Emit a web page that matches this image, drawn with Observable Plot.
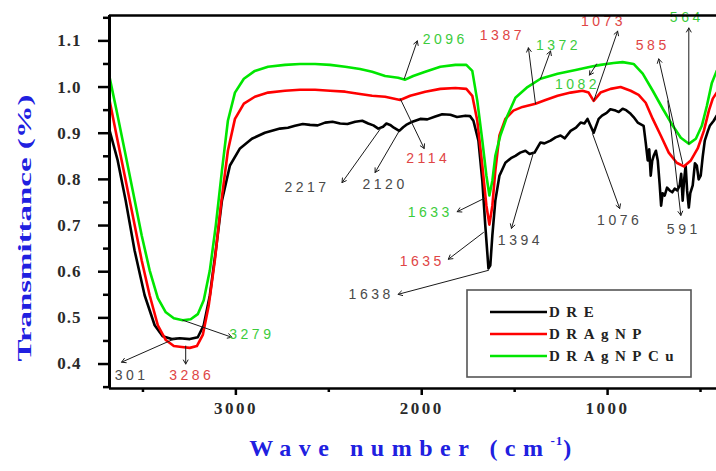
<!DOCTYPE html>
<html><head><meta charset="utf-8">
<script src="https://cdn.jsdelivr.net/npm/d3@7"></script>
<script src="https://cdn.jsdelivr.net/npm/@observablehq/plot@0.6"></script>
<style>
html,body{margin:0;padding:0;background:#fff;}
#chart{width:716px;height:471px;overflow:hidden;}
#chart g[aria-label$="tick label"] text{font-family:"Liberation Serif","Times New Roman",serif;font-weight:bold;font-size:17px;fill:#2a2a2a;}
#chart g[aria-label="y-axis tick label"] text{letter-spacing:1px;}
#chart g[aria-label="x-axis tick label"] text{letter-spacing:2.5px;}
#chart g[aria-label="text"] text{letter-spacing:3.5px;}
</style></head><body><div id="chart"></div><script>
const seriesNames = ["DRE", "DRAgNP", "DRAgNPCu"];
const seriesColors = ["#000000", "#ff0000", "#00e600"];
const labelColors = ["#4a4a4a", "#e04545", "#3ccc3c"];

const dreWave = [3679,3636,3593,3545,3491,3437,3394,3345,3302,3248,3205,3173,3140,3108,3075,3032,2978,2914,2844,2763,2720,2682,2640,2601,2560,2520,2480,2439,2400,2358,2320,2288,2260,2234,2208,2190,2170,2150,2121,2100,2084,2050,2008,1970,1927,1890,1846,1810,1765,1740,1722,1695,1674,1658,1641,1631,1620,1604,1582,1550,1520,1496,1470,1442,1420,1393,1361,1340,1307,1280,1253,1230,1199,1170,1145,1125,1108,1075,1048,1030,1005,985,957,940,919,900,876,860,838,806,795,784,776,768,760,752,740,730,720,712,704,693,680,666,652,639,625,612,604,596,588,580,572,563,555,542,530,520,510,499,488,477,460,450,429,413];
const dreT = [0.905,0.841,0.754,0.646,0.549,0.484,0.460,0.454,0.456,0.454,0.458,0.484,0.549,0.646,0.754,0.830,0.867,0.888,0.901,0.910,0.912,0.916,0.920,0.918,0.917,0.923,0.925,0.921,0.920,0.925,0.927,0.921,0.917,0.910,0.914,0.921,0.918,0.912,0.905,0.913,0.918,0.925,0.931,0.930,0.936,0.941,0.940,0.935,0.938,0.937,0.927,0.884,0.797,0.700,0.607,0.614,0.679,0.754,0.808,0.836,0.846,0.851,0.858,0.862,0.855,0.858,0.880,0.878,0.884,0.891,0.895,0.889,0.905,0.912,0.923,0.921,0.931,0.901,0.931,0.938,0.944,0.952,0.949,0.946,0.953,0.950,0.942,0.935,0.923,0.916,0.880,0.841,0.865,0.808,0.840,0.851,0.862,0.841,0.790,0.743,0.770,0.765,0.782,0.776,0.772,0.780,0.776,0.787,0.812,0.754,0.800,0.830,0.775,0.739,0.770,0.787,0.835,0.830,0.800,0.808,0.850,0.884,0.905,0.916,0.927,0.938];

const agnpWave = [3679,3642,3598,3555,3507,3464,3420,3377,3334,3291,3248,3210,3178,3146,3113,3081,3043,3005,2957,2898,2827,2736,2655,2574,2493,2412,2332,2267,2197,2116,2062,1981,1900,1819,1760,1728,1701,1674,1652,1636,1620,1604,1582,1550,1507,1458,1388,1334,1269,1199,1135,1102,1075,1038,984,930,876,833,795,757,714,671,628,590,552,515,482,455,434,413];
const agnpT = [0.970,0.895,0.808,0.722,0.625,0.549,0.484,0.452,0.439,0.437,0.435,0.439,0.463,0.527,0.625,0.743,0.862,0.931,0.964,0.979,0.988,0.992,0.994,0.994,0.992,0.990,0.985,0.981,0.979,0.972,0.981,0.990,0.996,0.998,0.996,0.981,0.927,0.830,0.743,0.702,0.743,0.819,0.895,0.931,0.949,0.957,0.964,0.972,0.981,0.988,0.992,0.988,0.970,0.988,0.996,1.000,0.992,0.983,0.966,0.931,0.895,0.858,0.836,0.828,0.841,0.867,0.905,0.949,0.975,0.988];

const cuWave = [3679,3642,3598,3555,3507,3464,3420,3377,3334,3286,3243,3205,3173,3140,3108,3075,3043,3005,2957,2898,2827,2736,2655,2574,2493,2412,2332,2267,2197,2127,2089,2046,1981,1900,1819,1760,1728,1701,1674,1652,1636,1620,1604,1577,1539,1496,1431,1361,1269,1172,1092,1038,968,919,860,811,757,703,649,606,563,525,493,466,439,413];
const cuT = [1.020,0.949,0.862,0.776,0.679,0.603,0.543,0.512,0.499,0.495,0.497,0.508,0.538,0.603,0.700,0.819,0.927,0.988,1.018,1.035,1.044,1.048,1.050,1.050,1.048,1.044,1.039,1.033,1.024,1.020,1.016,1.024,1.033,1.044,1.048,1.048,1.035,0.970,0.884,0.808,0.765,0.797,0.851,0.895,0.938,0.977,1.000,1.018,1.029,1.037,1.044,1.048,1.052,1.054,1.050,1.029,0.992,0.953,0.916,0.890,0.877,0.888,0.916,0.959,1.009,1.035];

const xDomain = [3680, 414];
const yDomain = [0.347, 1.155];
const xTicks = [3000, 2000, 1000];
const xMinorTicks = [3500, 2500, 1500, 500];
const yTicks = [0.4, 0.5, 0.6, 0.7, 0.8, 0.9, 1.0, 1.1];
const yMinorTicks = [0.35, 0.45, 0.55, 0.65, 0.75, 0.85, 0.95, 1.05, 1.15];

// [label, series, textW, textT, fromW, fromT, toW, toT]
const peakLabels = [
  ["2096","DRAgNPCu", 1873,1.104, 2094,1.018, 2024,1.100],
  ["1387","DRAgNP", 1566,1.111, 1388,0.964, 1426,1.085],
  ["1372","DRAgNPCu", 1264,1.089, 1361,1.018, 1307,1.078],
  ["1073","DRAgNP", 1022,1.143, 1075,0.970, 946,1.121],
  ["1082","DRAgNPCu", 1162,1.005, 1059,1.050, 1097,1.026],
  ["585","DRAgNP", 757,1.089, 596,0.834, 725,1.061],
  ["564","DRAgNPCu", 574,1.150, 563,0.877, 563,1.128],
  ["2114","DRAgNP", 1965,0.845, 2116,0.975, 1987,0.867],
  ["2217","DRE", 2617,0.782, 2218,0.912, 2429,0.793],
  ["2120","DRE", 2197,0.789, 2121,0.905, 2251,0.815],
  ["1633","DRAgNPCu", 1954,0.728, 1663,0.759, 1809,0.730],
  ["1635","DRAgNP", 1997,0.622, 1668,0.685, 1857,0.627],
  ["1638","DRE", 2272,0.551, 1641,0.603, 2127,0.551],
  ["1394","DRE", 1469,0.668, 1399,0.858, 1517,0.694],
  ["1076","DRE", 935,0.711, 1081,0.899, 935,0.737],
  ["591","DRE", 590,0.692, 676,0.970, 606,0.722],
  ["3279","DRAgNPCu", 2914,0.463, 3286,0.495, 3022,0.458],
  ["3286","DRAgNP", 3237,0.376, 3270,0.439, 3270,0.400],
  ["301","DRE", 3561,0.376, 3323,0.456, 3615,0.404]
];

const rows = [];
[[dreWave, dreT], [agnpWave, agnpT], [cuWave, cuT]].forEach(([ws, ts], k) => {
  ws.forEach((w, i) => rows.push({series: seriesNames[k], w, t: ts[i]}));
});

const textMarks = seriesNames.map((name, k) =>
  Plot.text(peakLabels.filter(d => d[1] === name), {
    x: d => d[2], y: d => d[3], text: d => d[0],
    fill: labelColors[k], fontSize: 14, fontFamily: "Liberation Sans, Arial, sans-serif"
  })
);

const chart = Plot.plot({
  width: 716, height: 471,
  marginTop: 15, marginBottom: 83, marginLeft: 109, marginRight: 0,
  x: {domain: xDomain},
  y: {domain: yDomain},
  color: {domain: seriesNames, range: seriesColors},
  style: {fontFamily: "Liberation Serif, serif", fontSize: "17px", background: "white", overflow: "visible"},
  marks: [
    Plot.line(rows, {x: "w", y: "t", z: "series", stroke: "series", strokeWidth: 2.6, clip: true}),
    Plot.arrow(peakLabels, {x1: d => d[4], y1: d => d[5], x2: d => d[6], y2: d => d[7], stroke: "#1a1a1a", strokeWidth: 1, headLength: 7}),
    ...textMarks,
    Plot.axisY(yTicks, {tickSize: 11, tickPadding: 17, strokeWidth: 2.5, tickFormat: d => d.toFixed(1), label: null}),
    Plot.axisY(yMinorTicks, {tickSize: 6, strokeWidth: 2.5, tickFormat: () => "", label: null}),
    Plot.axisX(xTicks, {tickSize: 7, tickPadding: 6, strokeWidth: 2.5, tickFormat: d => String(d), label: null}),
    Plot.axisX(xMinorTicks, {tickSize: 4, strokeWidth: 2.5, tickFormat: () => "", label: null}),
    Plot.ruleX([xDomain[0]], {stroke: "#000", strokeWidth: 3}),
    Plot.ruleY([yDomain[0]], {stroke: "#000", strokeWidth: 2.5}),
    Plot.ruleY([yDomain[1]], {stroke: "#000", strokeWidth: 2.5})
  ]
});
document.getElementById("chart").appendChild(chart);

const svg = d3.select(chart);
// Y axis title
svg.append("text")
  .attr("transform", "translate(24,228) rotate(-90)")
  .attr("text-anchor", "middle").attr("dominant-baseline", "central")
  .attr("textLength", 267).attr("lengthAdjust", "spacingAndGlyphs")
  .style("font-family", "Liberation Serif, serif").style("font-weight", "bold")
  .style("font-size", "19px").style("fill", "#2020e0")
  .text("Transmittance (%)");
// X axis title
const xt = svg.append("text")
  .attr("x", 414).attr("y", 456).attr("text-anchor", "middle")
  .style("font-family", "Liberation Serif, serif").style("font-weight", "bold")
  .style("font-size", "24px").style("fill", "#2020e0").style("letter-spacing", "7.5px");
xt.append("tspan").text("Wave number (cm");
xt.append("tspan").attr("dy", -11).style("font-size", "13px").style("letter-spacing", "1px").text("-1");
xt.append("tspan").attr("dy", 11).text(")");
// Legend
const lg = svg.append("g");
lg.append("rect").attr("x", 467).attr("y", 290).attr("width", 224).attr("height", 87)
  .attr("fill", "white").attr("stroke", "#555").attr("stroke-width", 1.6);
seriesNames.forEach((name, k) => {
  const y = 312 + k * 22;
  lg.append("line").attr("x1", 490).attr("x2", 547).attr("y1", y).attr("y2", y)
    .attr("stroke", seriesColors[k]).attr("stroke-width", 2.6);
  lg.append("text").attr("x", 549).attr("y", y).attr("text-anchor", "start").attr("dominant-baseline", "central")
    .style("font-family", "Liberation Serif, serif").style("font-weight", "bold")
    .style("font-size", "15px").style("letter-spacing", "6.5px").style("fill", "#222")
    .text(name);
});
</script></body></html>
